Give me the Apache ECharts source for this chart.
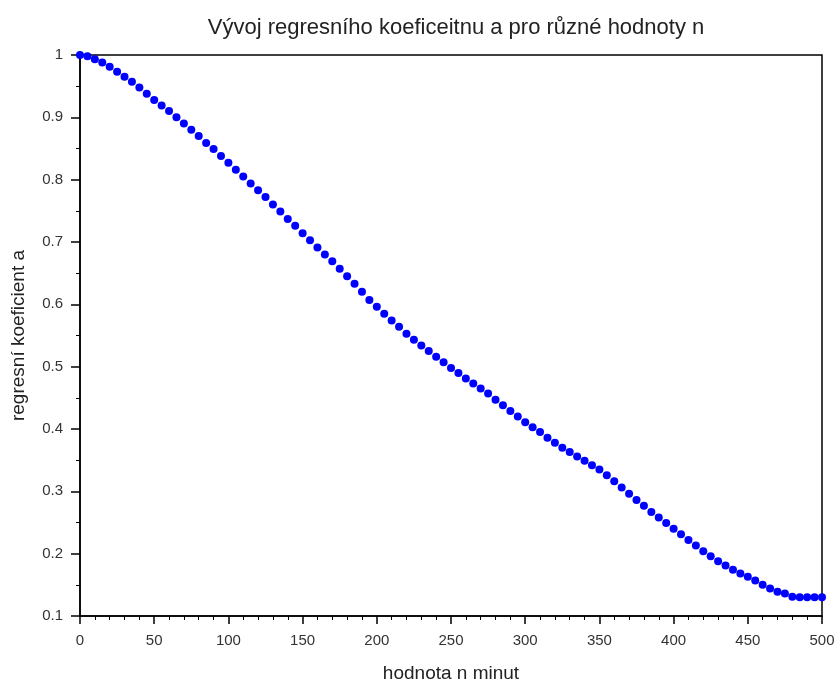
<!DOCTYPE html>
<html style="height: 100%">
<head>
<meta charset="utf-8">
</head>
<body style="height: 100%; margin: 0; background: #fff">
<div id="container" style="width: 839px; height: 684px;"></div>
<script type="text/javascript" src="https://cdn.jsdelivr.net/npm/echarts@6/dist/echarts.min.js"></script>
<script type="text/javascript">
// n in minutes, step 5
var nValues = [];
for (var i = 0; i <= 100; i++) nValues.push(i * 5);

// regression coefficient a
var aValues = [
    1.000, 0.998, 0.993, 0.988, 0.981, 0.973, 0.965, 0.957, 0.948, 0.938,
    0.928, 0.919, 0.910, 0.900, 0.890, 0.880, 0.870, 0.859, 0.849, 0.838,
    0.827, 0.816, 0.805, 0.794, 0.783, 0.772, 0.760, 0.749, 0.737, 0.726,
    0.714, 0.703, 0.691, 0.680, 0.669, 0.657, 0.645, 0.633, 0.620, 0.607,
    0.596, 0.585, 0.574, 0.564, 0.553, 0.543, 0.534, 0.525, 0.516, 0.507,
    0.498, 0.490, 0.481, 0.473, 0.465, 0.457, 0.447, 0.438, 0.429, 0.420,
    0.411, 0.403, 0.395, 0.386, 0.378, 0.370, 0.363, 0.356, 0.349, 0.342,
    0.335, 0.326, 0.316, 0.306, 0.296, 0.286, 0.277, 0.267, 0.258, 0.249,
    0.240, 0.231, 0.222, 0.213, 0.204, 0.196, 0.188, 0.181, 0.174, 0.168,
    0.163, 0.157, 0.150, 0.144, 0.139, 0.136, 0.131, 0.130, 0.130, 0.130,
    0.130
];

var titleText = 'Vývoj regresního koeficeitnu a pro různé hodnoty n';
var xName = 'hodnota n minut';
var yName = 'regresní koeficient a';

var points = nValues.map(function (n, i) { return [n, aValues[i]]; });

var dom = document.getElementById('container');
var myChart = echarts.init(dom);
var font = 'Liberation Sans, Arial, sans-serif';

var option = {
    animation: false,
    backgroundColor: '#fff',
    title: {
        text: titleText,
        left: 451,
        textAlign: 'center',
        top: 12,
        textStyle: { fontFamily: font, fontSize: 22, fontWeight: 'normal', color: '#222' }
    },
    grid: {
        left: 80, right: 17, top: 55, bottom: 68,
        outerBoundsMode: 'none',
        containLabel: false,
        show: true, borderColor: '#000', borderWidth: 1.5
    },
    xAxis: {
        type: 'value',
        min: 0, max: 500, interval: 50,
        name: xName,
        nameLocation: 'middle',
        nameGap: 48,
        nameTextStyle: { fontFamily: font, fontSize: 19, color: '#222' },
        axisLine: { lineStyle: { color: '#000', width: 1.5 } },
        axisTick: { length: 8, lineStyle: { color: '#000', width: 1.5 } },
        minorTick: { show: true, splitNumber: 5, length: 4, lineStyle: { color: '#000' } },
        splitLine: { show: false },
        axisLabel: { fontFamily: font, fontSize: 15, color: '#333', margin: 17 }
    },
    yAxis: {
        type: 'value',
        min: 0.1, max: 1, interval: 0.1,
        name: yName,
        nameLocation: 'middle',
        nameRotate: 90,
        nameGap: 52,
        nameTextStyle: { fontFamily: font, fontSize: 19, color: '#222' },
        axisLine: { show: true, lineStyle: { color: '#000', width: 1.5 } },
        axisTick: { show: true, length: 9, lineStyle: { color: '#000', width: 1.5 } },
        minorTick: { show: true, splitNumber: 2, length: 4, lineStyle: { color: '#000' } },
        splitLine: { show: false },
        axisLabel: {
            fontFamily: font, fontSize: 15, color: '#333', margin: 17,
            formatter: function (v) { return String(Math.round(v * 10) / 10); }
        }
    },
    series: [{
        type: 'scatter',
        data: points,
        symbol: 'circle',
        symbolSize: 8,
        itemStyle: { color: '#0000ff', opacity: 1 }
    }]
};

myChart.setOption(option);
</script>
</body>
</html>
